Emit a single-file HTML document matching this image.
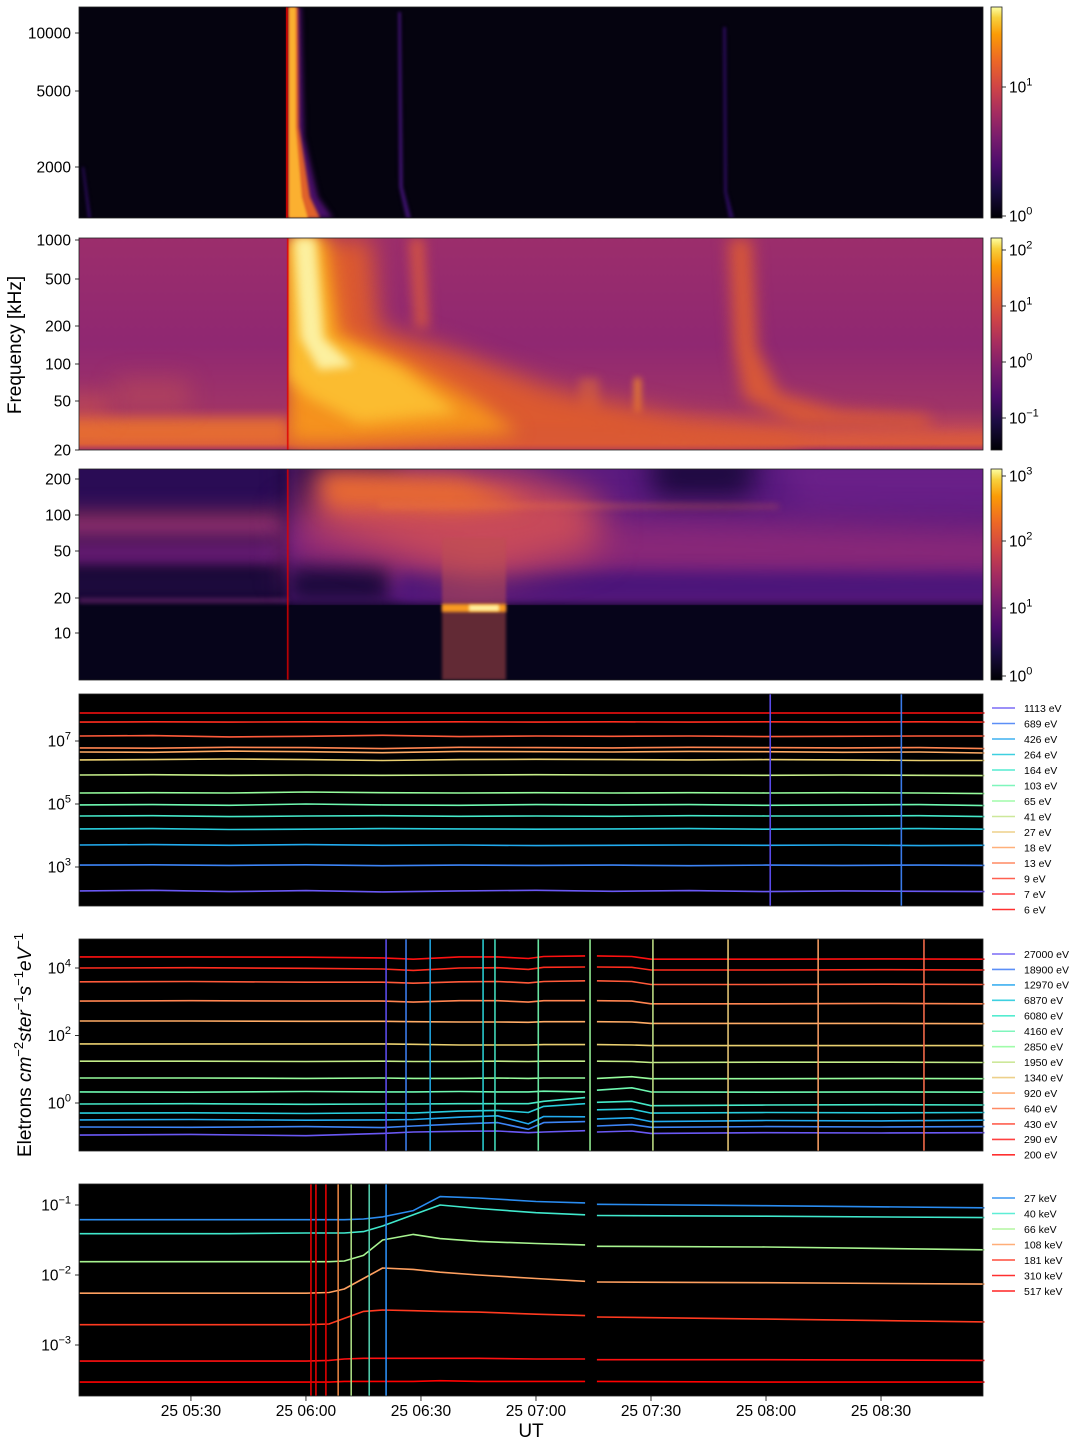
<!DOCTYPE html>
<html><head><meta charset="utf-8">
<style>
html,body{margin:0;padding:0;background:#fff;}
#wrap{position:relative;width:1088px;height:1448px;overflow:hidden;font-family:"Liberation Sans",sans-serif;}
canvas{position:absolute;}
svg{position:absolute;left:0;top:0;}
</style></head>
<body>
<div id="wrap">
<canvas id="c1" width="904" height="211" style="left:79px;top:7px"></canvas>
<canvas id="c2" width="904" height="212" style="left:79px;top:238px"></canvas>
<canvas id="c3" width="904" height="211" style="left:79px;top:469px"></canvas>
<svg id="svg" width="1088" height="1448"></svg>
</div>
<script>
// ---------- DATA ----------
// time in minutes after 25 05:00 UT
const T0 = 0.8, T1 = 236.6;
const xTickTimes = [30,60,90,120,150,180,210];
const xTickLabels = ["25 05:30","25 06:00","25 06:30","25 07:00","25 07:30","25 08:00","25 08:30"];

// panel 4 (eV electrons, low energy)
const p4Labels = ["1113 eV","689 eV","426 eV","264 eV","164 eV","103 eV","65 eV","41 eV","27 eV","18 eV","13 eV","9 eV","7 eV","6 eV"];
const p4Times = [1,20,40,60,80,100,120,140,160,180,200,220,237];
const p4_1113 = [2.24,2.26,2.22,2.25,2.21,2.24,2.26,2.23,2.25,2.22,2.24,2.23,2.22];
const p4_689 = [3.06,3.07,3.05,3.07,3.04,3.06,3.05,3.06,3.04,3.06,3.05,3.06,3.05];
const p4_426 = [3.70,3.71,3.69,3.71,3.69,3.70,3.68,3.69,3.70,3.69,3.70,3.68,3.69];
const p4_264 = [4.21,4.22,4.19,4.20,4.22,4.21,4.20,4.21,4.22,4.20,4.21,4.22,4.20];
const p4_164 = [4.62,4.63,4.60,4.62,4.63,4.61,4.62,4.61,4.63,4.62,4.62,4.63,4.60];
const p4_103 = [4.97,4.98,4.96,5.00,4.97,4.96,4.98,4.97,4.98,4.96,4.97,4.98,4.95];
const p4_65 = [5.35,5.36,5.35,5.38,5.36,5.35,5.36,5.35,5.36,5.35,5.36,5.35,5.33];
const p4_41 = [5.92,5.93,5.91,5.92,5.91,5.92,5.93,5.92,5.92,5.91,5.92,5.91,5.90];
const p4_27 = [6.40,6.41,6.43,6.41,6.38,6.41,6.42,6.41,6.40,6.41,6.40,6.38,6.38];
const p4_18 = [6.65,6.64,6.68,6.66,6.63,6.67,6.66,6.65,6.67,6.66,6.64,6.65,6.62];
const p4_13 = [6.78,6.77,6.80,6.79,6.76,6.80,6.79,6.78,6.80,6.79,6.78,6.79,6.76];
const p4_9 = [7.16,7.17,7.13,7.15,7.18,7.14,7.16,7.15,7.16,7.14,7.15,7.16,7.16];
const p4_7 = [7.60,7.61,7.60,7.61,7.60,7.61,7.60,7.61,7.60,7.61,7.60,7.61,7.60];
const p4_6 = [7.89,7.89,7.89,7.89,7.89,7.89,7.89,7.89,7.89,7.89,7.89,7.89,7.89];
const p4Vlines = [181.1,215.3];

// panel 5 (eV electrons, high energy)
const p5Labels = ["27000 eV","18900 eV","12970 eV","6870 eV","6080 eV","4160 eV","2850 eV","1950 eV","1340 eV","920 eV","640 eV","430 eV","290 eV","200 eV"];
const p5Times = [1,30,60,80,88,100,110,118,122,132.8,135.9,145,150,180,210,237];
const p5_27000 = [-0.95,-0.93,-0.97,-0.9,-0.86,-0.84,-0.83,-0.88,-0.86,-0.82,-0.86,-0.83,-0.90,-0.88,-0.89,-0.88];
const p5_18900 = [-0.71,-0.72,-0.70,-0.73,-0.68,-0.62,-0.58,-0.78,-0.58,-0.55,-0.68,-0.64,-0.72,-0.70,-0.71,-0.70];
const p5_12970 = [-0.50,-0.49,-0.51,-0.50,-0.49,-0.42,-0.38,-0.62,-0.40,-0.41,-0.47,-0.44,-0.55,-0.52,-0.53,-0.51];
const p5_6870 = [-0.30,-0.29,-0.31,-0.29,-0.30,-0.24,-0.22,-0.28,-0.10,-0.02,-0.20,-0.18,-0.30,-0.28,-0.29,-0.28];
const p5_6080 = [-0.03,-0.02,-0.04,-0.03,-0.03,-0.02,-0.02,-0.02,0.05,0.16,0.02,0.05,-0.08,-0.06,-0.05,-0.06];
const p5_4160 = [0.33,0.32,0.34,0.33,0.33,0.34,0.33,0.33,0.35,0.33,0.38,0.45,0.33,0.32,0.33,0.32];
const p5_2850 = [0.74,0.74,0.73,0.74,0.73,0.73,0.74,0.73,0.74,0.74,0.73,0.78,0.72,0.72,0.73,0.72];
const p5_1950 = [1.24,1.24,1.23,1.24,1.23,1.23,1.24,1.23,1.24,1.24,1.24,1.23,1.20,1.21,1.21,1.20];
const p5_1340 = [1.75,1.75,1.75,1.75,1.74,1.72,1.72,1.72,1.73,1.73,1.73,1.72,1.70,1.70,1.70,1.70];
const p5_920 = [2.43,2.43,2.42,2.42,2.41,2.40,2.40,2.39,2.41,2.41,2.41,2.40,2.36,2.36,2.36,2.35];
const p5_640 = [3.02,3.03,3.02,3.02,2.99,3.03,3.03,2.99,3.03,3.03,3.03,3.02,2.94,2.94,2.95,2.94];
const p5_430 = [3.59,3.60,3.58,3.58,3.55,3.59,3.60,3.56,3.60,3.62,3.62,3.60,3.51,3.51,3.52,3.51];
const p5_290 = [4.00,4.01,3.99,3.97,3.93,4.00,4.01,3.96,4.02,4.03,4.03,4.02,3.94,3.94,3.95,3.94];
const p5_200 = [4.33,4.33,4.32,4.30,4.26,4.33,4.33,4.28,4.34,4.36,4.36,4.34,4.26,4.26,4.27,4.26];
const p5Vlines = [80.9,86.1,92.4,106.2,109.3,120.6,134.1,150.5,170.1,193.6,221.2];

// panel 6 (keV electrons)
const p6Labels = ["27 keV","40 keV","66 keV","108 keV","181 keV","310 keV","517 keV"];
const p6Times = [1,40,60,66,70,75,80,88,95,105,120,132.8,135.9,180,237];
const p6_27 = [-1.21,-1.21,-1.21,-1.21,-1.21,-1.20,-1.17,-1.08,-0.88,-0.90,-0.95,-0.97,-0.99,-1.01,-1.04];
const p6_40 = [-1.41,-1.41,-1.40,-1.40,-1.40,-1.38,-1.30,-1.14,-1.00,-1.05,-1.11,-1.14,-1.15,-1.16,-1.18];
const p6_66 = [-1.81,-1.81,-1.81,-1.81,-1.80,-1.72,-1.50,-1.42,-1.48,-1.52,-1.55,-1.57,-1.59,-1.60,-1.64];
const p6_108 = [-2.26,-2.26,-2.26,-2.25,-2.20,-2.05,-1.90,-1.92,-1.96,-2.00,-2.05,-2.09,-2.10,-2.11,-2.13];
const p6_181 = [-2.71,-2.71,-2.71,-2.70,-2.62,-2.52,-2.50,-2.51,-2.52,-2.53,-2.56,-2.58,-2.60,-2.63,-2.67];
const p6_310 = [-3.23,-3.23,-3.23,-3.22,-3.20,-3.19,-3.19,-3.19,-3.19,-3.19,-3.20,-3.20,-3.21,-3.21,-3.22];
const p6_517 = [-3.53,-3.53,-3.53,-3.53,-3.52,-3.52,-3.52,-3.52,-3.51,-3.52,-3.52,-3.52,-3.52,-3.53,-3.53];
const p6Vlines = [61.3,62.6,65.2,68.4,71.8,76.5,80.9];

// colours (style, not data)
const rainbow14 = ["#6a58f4","#3d84f6","#22aaee","#28ccdc","#45e8c8","#6ef8b0","#96fc9c","#c4ec88","#ead070","#ffac66","#ff8450","#ff5a3a","#ff2c1e","#ff1010"];
const legend14 = ["#7b6cf6","#5c8ff7","#3fb0f0","#3ed0e0","#55ecd0","#7ff6bc","#a0fcaa","#cde89a","#edd08a","#ffb07a","#ff8a64","#ff6050","#ff4040","#ff3030"];
const p6Colors = ["#2a8cf0","#40e8cc","#a8f490","#ffa060","#ff3a20","#ff1010","#ff0000"];
const p6Legend = ["#3a96f2","#5eeed6","#b4f6a0","#ffae78","#ff4c3a","#ff3030","#ff2424"];
const p5VColors = ["#5a4ae8","#3a7ae8","#1f9fd8","#28c8cc","#40d8b8","#68e4a0","#90e890","#b8d880","#e0c070","#f09860","#f06848"];
const p4VColors = ["#5a4ae8","#3a7ae8"];
const p6VColors = ["#e00000","#e00000","#e00000","#e08040","#a8d880","#50c8a8","#2a8cf0"];

// ---------- AXES ----------
const X0=79, X1=983;
function xs(t){return X0+(t-T0)*(X1-X0)/(T1-T0);}
const NS="http://www.w3.org/2000/svg";
const svg=document.getElementById('svg');
function el(tag,attrs,parent){const e=document.createElementNS(NS,tag);for(const k in attrs)e.setAttribute(k,attrs[k]);(parent||svg).appendChild(e);return e;}

const panels=[
 {top:7,bot:218},{top:238,bot:450},{top:469,bot:680},{top:694,bot:906},{top:939,bot:1151},{top:1184,bot:1396}];

for(let i=3;i<6;i++){
 const r=el('rect',{x:X0,y:panels[i].top,width:X1-X0,height:panels[i].bot-panels[i].top,fill:'#000'});
 
 
}

function yAx(yRef,vRef,ppd){return v=>yRef-(v-vRef)*ppd;}
const y4=yAx(741,7,31.5), y5=yAx(968,4,33.75), y6=yAx(1205,-1,70);

function drawSeries(times,vals,yf,color,name,gap){
 let d='';let pen=false;
 for(let i=0;i<times.length;i++){
  if(gap && i>0 && times[i-1]<=gap[0] && times[i]>=gap[1]){pen=false;}
  const x=xs(times[i]).toFixed(1), y=yf(vals[i]).toFixed(1);
  d+=(pen?'L':'M')+x+' '+y;pen=true;
 }
 const p=el('path',{d:d,stroke:color,'stroke-width':1.6,fill:'none','stroke-linejoin':'round'});
 
 
}
function drawVlines(times,colors,top,bot,prefix){
 times.forEach((t,i)=>{
  const l=el('line',{x1:xs(t),x2:xs(t),y1:top,y2:bot,stroke:colors[i],'stroke-width':1.6});
  
  
 });
}
function legend(labels,colors,y0,step,prefix){
 labels.forEach((lab,i)=>{
  const y=y0+i*step;
  const g=el('g',{});
  
  
  el('line',{x1:992,x2:1015,y1:y,y2:y,stroke:colors[i],'stroke-width':1.6},g);
  const t=el('text',{x:1024,y:y+3.8,'font-size':10.5,fill:'#000'},g);t.textContent=lab;
 });
}

const p4Series=[p4_1113,p4_689,p4_426,p4_264,p4_164,p4_103,p4_65,p4_41,p4_27,p4_18,p4_13,p4_9,p4_7,p4_6];
p4Series.forEach((s,i)=>drawSeries(p4Times,s,y4,rainbow14[i],'p4-line-'+p4Labels[i].replace(' ','-')));
drawVlines(p4Vlines,p4VColors,694,906,'p4');
legend(p4Labels,legend14,708,15.5,'p4');
const gap=[132.8,135.9];
const p5Series=[p5_27000,p5_18900,p5_12970,p5_6870,p5_6080,p5_4160,p5_2850,p5_1950,p5_1340,p5_920,p5_640,p5_430,p5_290,p5_200];
p5Series.forEach((s,i)=>drawSeries(p5Times,s,y5,rainbow14[i],'p5-line-'+p5Labels[i].replace(' ','-'),gap));
drawVlines(p5Vlines,p5VColors,939,1151,'p5');
legend(p5Labels,legend14,954,15.45,'p5');
const p6Series=[p6_27,p6_40,p6_66,p6_108,p6_181,p6_310,p6_517];
p6Series.forEach((s,i)=>drawSeries(p6Times,s,y6,p6Colors[i],'p6-line-'+p6Labels[i].replace(' ','-'),gap));
drawVlines(p6Vlines,p6VColors,1184,1396,'p6');
legend(p6Labels,p6Legend,1198,15.5,'p6');

panels.forEach((p,i)=>{
 const r=el('rect',{x:X0,y:p.top,width:X1-X0,height:p.bot-p.top,fill:'none',stroke:'#222','stroke-width':0.8});
 
 
});

function ytick(y,txt,sup,name){
 el('line',{x1:X0-4,x2:X0,y1:y,y2:y,stroke:'#000','stroke-width':0.8});
 const t=el('text',{x:X0-8,y:y+5.5,'font-size':15.5,'text-anchor':'end',fill:'#000'});
 
 
 if(sup!==undefined){
  const a=el('tspan',{},t);a.textContent=txt;
  const b=el('tspan',{'font-size':11,dy:-7},t);b.textContent=sup;
 } else t.textContent=txt;
}
[[33,'10000'],[91,'5000'],[167,'2000']].forEach(a=>ytick(a[0],a[1],undefined,'p1-ytick-'+a[1]));
[[240,'1000'],[279,'500'],[326,'200'],[364,'100'],[401,'50'],[450,'20']].forEach(a=>ytick(a[0],a[1],undefined,'p2-ytick-'+a[1]));
[[479,'200'],[515,'100'],[551,'50'],[598,'20'],[633,'10']].forEach(a=>ytick(a[0],a[1],undefined,'p3-ytick-'+a[1]));
[7,5,3].forEach(e=>ytick(y4(e),'10',String(e),'p4-ytick-1e'+e));
[4,2,0].forEach(e=>ytick(y5(e),'10',String(e),'p5-ytick-1e'+e));
[-1,-2,-3].forEach(e=>ytick(y6(e),'10',"\u2212"+(-e),'p6-ytick-1e'+e));

xTickTimes.forEach((t,i)=>{
 el('line',{x1:xs(t),x2:xs(t),y1:1396,y2:1401,stroke:'#000','stroke-width':0.8});
 const tx=el('text',{x:xs(t),y:1416,'font-size':15.5,'text-anchor':'middle',fill:'#000'});
 tx.textContent=xTickLabels[i];
 
 
});
const ut=el('text',{x:531,y:1437,'font-size':19,'text-anchor':'middle',fill:'#000'});ut.textContent='UT';


const fq=el('text',{x:0,y:0,'font-size':19,'text-anchor':'middle',fill:'#000',transform:'translate(21,345) rotate(-90)'});fq.textContent='Frequency [kHz]';


const ey=el('text',{x:0,y:0,'font-size':19,'text-anchor':'middle',fill:'#000',transform:'translate(31,1045) rotate(-90)'});


(function(){const parts=[['Eletrons ',0,''],['cm',0,'i'],['\u22122',1,''],['ster',0,'i'],['\u22121',1,''],['s',0,'i'],['\u22121',1,''],['eV',0,'i'],['\u22121',1,'']];
 let prev=0;parts.forEach(p=>{const a={};if(p[2])a['font-style']='italic';if(p[1]){a['font-size']=13;a.dy=prev?0:-8;prev=1;}else{a.dy=prev?8:0;prev=0;}
 const s=el('tspan',a,ey);s.textContent=p[0];});})();

const defs=el('defs',{});
const lg=el('linearGradient',{id:'inferno',x1:0,y1:1,x2:0,y2:0},defs);
[[0,'#000004'],[0.13,'#1b0c41'],[0.25,'#4a0c6b'],[0.38,'#781c6d'],[0.5,'#a52c60'],[0.62,'#cf4446'],[0.75,'#ed6925'],[0.87,'#fb9b06'],[0.95,'#f7d13d'],[1,'#fcffa4']].forEach(s=>el('stop',{offset:s[0],'stop-color':s[1]},lg));
const cbs=[{top:7,bot:218,t:[[1,87],[0,216]]},{top:238,bot:450,t:[[2,250],[1,306],[0,362],[-1,418]]},{top:469,bot:680,t:[[3,476],[2,541],[1,608],[0,676]]}];
cbs.forEach((c,i)=>{
 const r=el('rect',{x:991,y:c.top,width:11,height:c.bot-c.top,fill:'url(#inferno)',stroke:'#222','stroke-width':0.8});
 
 
 c.t.forEach(tk=>{
  el('line',{x1:1002,x2:1006,y1:tk[1],y2:tk[1],stroke:'#000','stroke-width':0.8});
  const t=el('text',{x:1009,y:tk[1]+5.5,'font-size':15.5,fill:'#000'});
  const a=el('tspan',{},t);a.textContent='10';
  const b=el('tspan',{'font-size':11,dy:-7},t);b.textContent=tk[0]<0?'\u22121':String(tk[0]);
  
  
 });
});

// ---------- SPECTROGRAMS ----------
const burstX = 288-79;
function poly(ctx,pts,color,blur){ctx.save();ctx.filter='blur('+blur+'px)';ctx.fillStyle=color;ctx.beginPath();pts.forEach((p,i)=>i?ctx.lineTo(p[0],p[1]):ctx.moveTo(p[0],p[1]));ctx.closePath();ctx.fill();ctx.restore();}
function clipRight(ctx,x){ctx.save();ctx.beginPath();ctx.rect(x,0,2000,400);ctx.clip();}

// panel 1
(function(){const c=document.getElementById('c1').getContext('2d');
 c.fillStyle='#05030f';c.fillRect(0,0,904,211);
 poly(c,[[319,5],[322,5],[324,180],[332,211],[327,211],[320,180]],'#3a1268',1.5);
 poly(c,[[644,20],[647,20],[648,185],[655,211],[650,211],[645,185]],'#2a0c5a',1.5);
 poly(c,[[3,160],[5,160],[12,211],[9,211]],'#2a0c5a',1.5);
 clipRight(c,burstX);
 poly(c,[[burstX,0],[burstX+13,0],[burstX+16,130],[burstX+30,190],[burstX+45,211],[burstX,211]],'#4a106a',2.5);
 poly(c,[[burstX,0],[burstX+10,0],[burstX+11,120],[burstX+22,190],[burstX+32,211],[burstX,211]],'#e0622a',1.5);
 poly(c,[[burstX+1,0],[burstX+8,0],[burstX+8,120],[burstX+14,190],[burstX+20,211],[burstX+1,211]],'#fbb030',1.2);
 c.restore();
 c.fillStyle='#e00000';c.fillRect(burstX-2,0,1.8,211);
})();

// panel 2
(function(){const c=document.getElementById('c2').getContext('2d');
 let g=c.createLinearGradient(0,0,0,212);
 g.addColorStop(0,'#9c2e6c');g.addColorStop(0.5,'#902872');g.addColorStop(0.8,'#a03468');g.addColorStop(0.9,'#c04858');g.addColorStop(0.97,'#d85840');g.addColorStop(1,'#9a2e6a');
 c.fillStyle=g;c.fillRect(0,0,904,212);
 poly(c,[[-20,180],[209,180],[209,205],[-20,205]],'rgba(240,120,40,0.75)',6);
 poly(c,[[35,140],[110,140],[110,172],[35,172]],'rgba(230,110,60,0.25)',12);
 poly(c,[[-20,155],[30,155],[30,185],[-20,185]],'rgba(230,100,60,0.35)',10);
 poly(c,[[330,0],[345,0],[350,90],[336,90]],'rgba(220,90,60,0.8)',6);
 poly(c,[[500,140],[520,140],[520,175],[500,175]],'rgba(235,120,50,0.45)',5);
 poly(c,[[555,140],[562,140],[562,175],[555,175]],'rgba(245,140,40,0.8)',3);
 poly(c,[[650,0],[672,0],[678,110],[700,155],[760,172],[850,178],[850,192],[720,188],[665,160],[655,110]],'#d85838',8);
 poly(c,[[209,190],[930,195],[930,206],[209,206]],'rgba(225,95,55,0.6)',6);
 clipRight(c,burstX);
 poly(c,[[burstX,0],[292,0],[300,90],[380,115],[470,150],[600,180],[720,195],[720,208],[burstX,208]],'#dc5a30',12);
 poly(c,[[burstX,0],[250,0],[262,95],[330,125],[400,165],[440,195],[260,205],[burstX,205]],'#f5921e',9);
 poly(c,[[burstX,0],[240,0],[252,100],[320,130],[380,175],[280,185],[230,160],[burstX,140]],'#fbbc30',7);
 poly(c,[[215,0],[236,0],[244,100],[275,128],[240,132],[222,100]],'#fcf0a0',5);
 c.restore();
 c.fillStyle='#e00000';c.fillRect(burstX-1,0,1.5,212);
})();

// panel 3
(function(){const c=document.getElementById('c3').getContext('2d');
 c.fillStyle='#06041a';c.fillRect(0,0,904,211);
 poly(c,[[-30,-20],[209,-20],[209,45],[-30,45]],'#2a0c55',8);
 poly(c,[[-30,42],[209,42],[209,72],[-30,72]],'#903070',10);
 poly(c,[[-30,70],[209,70],[209,100],[-30,100]],'#6a1c78',10);
 poly(c,[[-30,100],[209,100],[209,132],[-30,132]],'#1c0a3c',6);
 poly(c,[[209,-20],[940,-20],[940,134],[209,134]],'#5a1a80',4);
 poly(c,[[209,-20],[320,-20],[320,55],[209,55]],'#2a0c4c',12);
 poly(c,[[570,-20],[680,-20],[670,30],[575,30]],'#1e0a40',14);
 poly(c,[[700,-20],[940,-20],[940,40],[720,40]],'#6a2088',14);
 poly(c,[[209,40],[940,60],[940,110],[209,110]],'#8a2878',16);
 poly(c,[[209,98],[310,98],[310,134],[209,134]],'#1c0a3c',10);
 poly(c,[[320,102],[940,106],[940,130],[320,130]],'#4a157a',8);
 clipRight(c,burstX);
 poly(c,[[230,0],[430,0],[520,30],[520,80],[400,110],[230,60]],'#c84a5a',18);
 poly(c,[[240,5],[380,10],[450,35],[380,42],[250,38]],'#e86a32',10);
 poly(c,[[300,33],[700,36],[700,39],[300,40]],'rgba(240,120,60,0.4)',3);
 c.restore();
 c.fillStyle='#06041a';c.fillRect(0,136,904,80);
 poly(c,[[0,129],[209,129],[209,134],[0,134]],'rgba(120,40,120,0.6)',2);
 poly(c,[[363,69],[427,69],[427,211],[363,211]],'rgba(190,80,80,0.5)',1.5);
 poly(c,[[363,135],[427,135],[427,143],[363,143]],'#f89a22',1.5);
 poly(c,[[390,136],[420,136],[420,142],[390,142]],'#fff0a0',1.5);
 c.fillStyle='#e00000';c.fillRect(burstX-1,0,1.5,211);
})();
</script>
</body></html>
